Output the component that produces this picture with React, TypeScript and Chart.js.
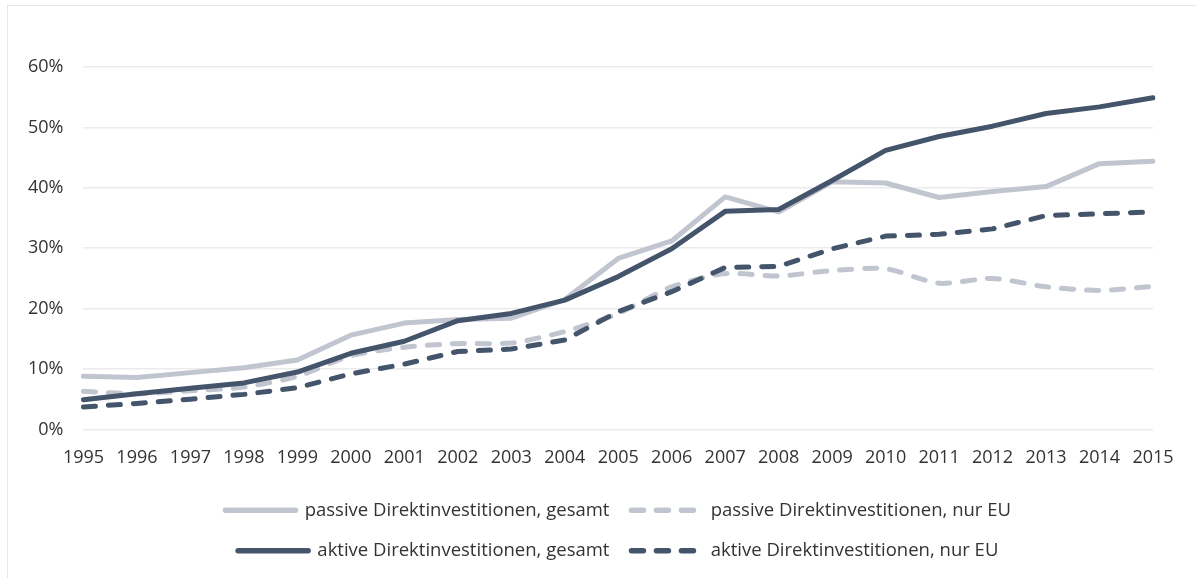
import React, { useEffect, useRef } from "react";
import { Chart, registerables } from "chart.js";

Chart.register(...registerables);

const years = [
  "1995", "1996", "1997", "1998", "1999", "2000", "2001", "2002", "2003", "2004",
  "2005", "2006", "2007", "2008", "2009", "2010", "2011", "2012", "2013", "2014", "2015",
];

// Shares in percent
const passiveTotal = [8.8, 8.6, 9.4, 10.2, 11.5, 15.6, 17.6, 18.2, 18.4, 21.5, 28.3, 31.2, 38.5, 36.0, 41.0, 40.8, 38.4, 39.4, 40.2, 44.0, 44.4];
const passiveEU = [6.3, 5.9, 6.4, 7.0, 8.8, 12.2, 13.6, 14.2, 14.3, 16.2, 19.2, 23.6, 25.8, 25.4, 26.3, 26.6, 24.2, 25.0, 23.6, 23.0, 23.7];
const activeTotal = [4.9, 5.9, 6.8, 7.7, 9.5, 12.6, 14.6, 18.0, 19.2, 21.4, 25.3, 29.9, 36.1, 36.4, 41.2, 46.2, 48.5, 50.2, 52.3, 53.4, 54.9];
const activeEU = [3.7, 4.3, 5.0, 5.8, 6.9, 9.2, 10.8, 12.9, 13.3, 14.8, 19.5, 22.8, 26.8, 27.0, 29.9, 32.0, 32.3, 33.2, 35.4, 35.7, 36.0];

const yTicks = [0, 10, 20, 30, 40, 50, 60];

const DARK = "#44546A";
const LIGHT = "#C0C5CF";
const TEXT = "#333333";
const FONT = "'Open Sans', sans-serif";
const DASH = [12, 13];

export default function App() {
  const canvasRef = useRef<HTMLCanvasElement | null>(null);

  useEffect(() => {
    const canvas = canvasRef.current;
    if (!canvas) return;
    const common = {
      borderWidth: 5,
      pointRadius: 0,
      pointHoverRadius: 0,
      borderCapStyle: "round" as const,
      borderJoinStyle: "round" as const,
      fill: false,
    };
    const chart = new Chart(canvas, {
      type: "line",
      data: {
        labels: years,
        datasets: [
          { ...common, label: "passive Direktinvestitionen, gesamt", data: passiveTotal, borderColor: LIGHT, backgroundColor: LIGHT, order: 4, tension: 0 },
          { ...common, label: "passive Direktinvestitionen, nur EU", data: passiveEU, borderColor: LIGHT, backgroundColor: LIGHT, borderDash: DASH, order: 3, tension: 0.25 },
          { ...common, label: "aktive Direktinvestitionen, gesamt", data: activeTotal, borderColor: DARK, backgroundColor: DARK, order: 2, tension: 0 },
          { ...common, label: "aktive Direktinvestitionen, nur EU", data: activeEU, borderColor: DARK, backgroundColor: DARK, borderDash: DASH, order: 1, tension: 0 },
        ],
      },
      options: {
        animation: false,
        responsive: false,
        maintainAspectRatio: false,
        layout: { padding: { top: 67, left: 8, right: 43, bottom: 8 } },
        plugins: {
          tooltip: { enabled: false },
          legend: {
            position: "bottom",
            fullSize: false,
            maxWidth: 900,
            labels: {
              usePointStyle: true,
              pointStyle: "line",
              pointStyleWidth: 70,
              boxHeight: 18,
              padding: 22,
              color: TEXT,
              font: { family: FONT, size: 18.5 },
              sort: (a: any, b: any) => a.datasetIndex - b.datasetIndex,
              generateLabels: (c: any) =>
                c.data.datasets.map((ds: any, i: number) => ({
                  text: ds.label,
                  datasetIndex: i,
                  fillStyle: ds.borderColor,
                  strokeStyle: ds.borderColor,
                  fontColor: TEXT,
                  lineWidth: 5.5,
                  lineDash: ds.borderDash || [],
                  lineCap: "round",
                  pointStyle: "line",
                  hidden: false,
                })),
            },
          },
        },
        scales: {
          x: {
            type: "category",
            offset: false,
            grid: { display: false },
            border: { display: false },
            ticks: {
              color: TEXT,
              font: { family: FONT, size: 18 },
              maxRotation: 0,
              autoSkip: false,
              padding: 10,
            },
          },
          y: {
            min: 0,
            max: 60,
            afterBuildTicks: (axis: any) => {
              axis.ticks = yTicks.map((v) => ({ value: v }));
            },
            grid: { color: "#EBEBEE", lineWidth: 1.5, drawTicks: false },
            border: { display: false },
            ticks: {
              color: TEXT,
              font: { family: FONT, size: 18 },
              padding: 20,
              callback: (v: any) => `${v}%`,
            },
          },
        },
      },
    });
    return () => chart.destroy();
  }, []);

  return (
    <div style={{ position: "absolute", left: 0, top: 0, width: 1196, height: 578, background: "#fff", overflow: "hidden" }}>
      <div
        style={{
          position: "absolute",
          left: 7,
          top: 5,
          width: 1300,
          height: 700,
          borderTop: "1.5px solid #E6E6E9",
          borderLeft: "1.5px solid #E6E6E9",
        }}
      />
      <canvas ref={canvasRef} width={1196} height={578} style={{ position: "absolute", left: 0, top: 0 }} />
    </div>
  );
}
